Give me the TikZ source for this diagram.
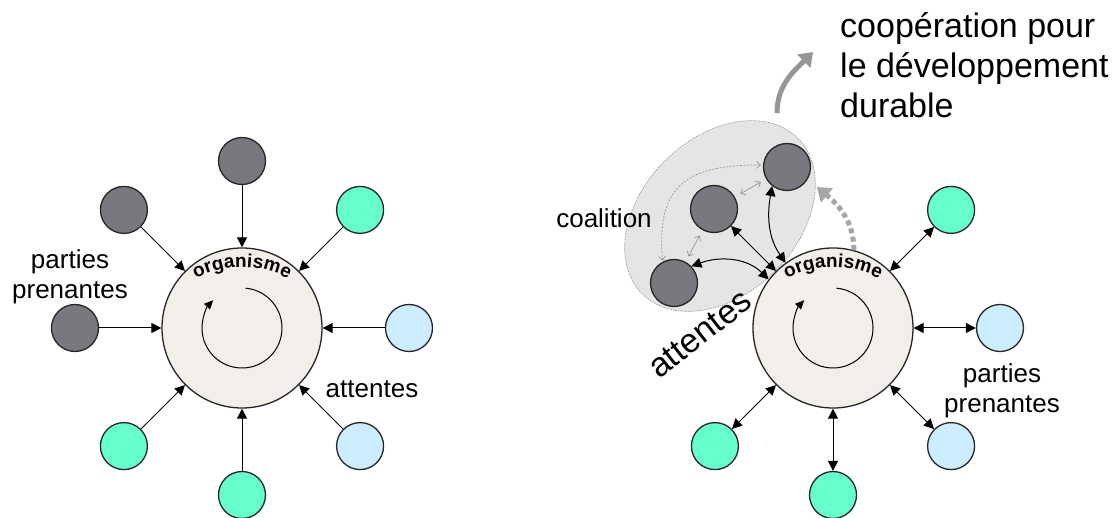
\documentclass[tikz,border=0pt]{standalone}
\usepackage{fontspec}
\setmainfont{Liberation Sans}
\usetikzlibrary{calc,arrows.meta,shapes.geometric,decorations.text}
\definecolor{darkclr}{RGB}{120,121,126}
\definecolor{freshclr}{RGB}{102,255,204}
\definecolor{paleclr}{RGB}{204,236,255}
\definecolor{orgclr}{RGB}{242,238,233}
\definecolor{coalclr}{RGB}{228,230,230}
\definecolor{riseclr}{RGB}{150,150,150}
\tikzset{
    party/.style={circle,draw=black!85,line width=1.3pt,minimum size=47pt,inner sep=0pt},
    dark/.style={party,fill=darkclr},
    fresh/.style={party,fill=freshclr},
    pale/.style={party,fill=paleclr},
    org/.style={circle,draw=black!85,line width=1.3pt,fill=orgclr,minimum size=160pt,inner sep=0pt},
    coalbox/.style={ellipse,draw=riseclr,dash pattern=on 1.5pt off 1pt,line width=0.6pt,fill=coalclr,minimum width=220pt,minimum height=156pt,inner sep=0pt},
    edge/.style={-{Triangle[length=10pt,width=10pt]},line width=1pt},
    both/.style={{Triangle[length=10pt,width=10pt]}-{Triangle[length=10pt,width=10pt]},line width=1pt},
    spin/.style={-{Triangle[length=9pt,width=8pt]},line width=1pt},
    pair/.style={{Straight Barb[length=4pt,width=7pt]}-{Straight Barb[length=4pt,width=7pt]},draw=riseclr,line width=0.7pt,shorten >=6pt,shorten <=6pt},
    loopback/.style={pair,dash pattern=on 2pt off 1.5pt,shorten >=2pt,shorten <=1pt},
    rise/.style={-{Triangle[length=13pt,width=18pt]},draw=riseclr,line width=5pt},
    feedback/.style={rise,draw=riseclr!85,dash pattern=on 5pt off 3.5pt},
    lbl/.style={font=\fontsize{26}{30}\selectfont,align=center,inner sep=0pt},
    big/.style={font=\fontsize{34}{40}\selectfont,inner sep=0pt},
    orgtext/.style={decorate,decoration={text along path,text align=center,text={|\fontsize{19}{19}\selectfont\bfseries|organisme}}},
}

\begin{document}
\begin{tikzpicture}[x=1pt,y=1pt]
\useasboundingbox (0,0) rectangle (1116,517);

% left: each party brings its expectations to the organism
\node[org] (orgL) at (242,189) {};
\node[dark]  (lN)  at ($(orgL)+(90:167)$)  {};
\node[dark]  (lNW) at ($(orgL)+(135:167)$) {};
\node[fresh] (lNE) at ($(orgL)+(45:167)$)  {};
\node[dark]  (lW)  at ($(orgL)+(180:167)$) {};
\node[pale]  (lE)  at ($(orgL)+(0:167)$)   {};
\node[fresh] (lSW) at ($(orgL)+(225:167)$) {};
\node[fresh] (lS)  at ($(orgL)+(270:167)$) {};
\node[pale]  (lSE) at ($(orgL)+(315:167)$) {};

\draw[edge] (lN)  -- (orgL);
\draw[edge] (lNW) -- (orgL);
\draw[edge] (lNE) -- (orgL);
\draw[edge] (lW)  -- (orgL);
\draw[edge] (lE)  -- (orgL);
\draw[edge] (lSW) -- (orgL);
\draw[edge] (lS)  -- (orgL);
\draw[edge] (lSE) -- (orgL);

\path[orgtext] ($(orgL)+(0,-36)+(125:97)$) arc[start angle=125,end angle=55,radius=97];
\draw[spin] ($(orgL)+(85:40)$) arc[start angle=85,end angle=-224,radius=40];

\node[lbl] (ppL) at (70,240)  {parties\\prenantes};
\node[lbl] (atL) at (372,128) {attentes};

% right: coalition and two-way exchanges
\node[coalbox,rotate=45] (coalition) at (720,301) {};
\node[org] (orgR) at (833,189) {};
\node[dark]  (cT) at (787,350) {};
\node[dark]  (cM) at (714,308) {};
\node[dark]  (cB) at (674,234) {};
\node[fresh] (rNE) at ($(orgR)+(45:167)$)  {};
\node[pale]  (rE)  at ($(orgR)+(0:167)$)   {};
\node[pale]  (rSE) at ($(orgR)+(315:167)$) {};
\node[fresh] (rS)  at ($(orgR)+(270:167)$) {};
\node[fresh] (rSW) at ($(orgR)+(225:167)$) {};

\draw[both] (orgR) -- (rNE);
\draw[both] (orgR) -- (rE);
\draw[both] (orgR) -- (rSE);
\draw[both] (orgR) -- (rS);
\draw[both] (orgR) -- (rSW);

\draw[both] (cM) -- (orgR);
\draw[both] (cB.44) to[out=20,in=135] (orgR.143);
\draw[both] (cT.232) to[out=-100,in=125] (orgR.126);

\draw[pair] (cB) -- (cM);
\draw[pair] (cM) -- (cT);
\draw[loopback] (cB.118) to[out=95,in=180,looseness=1.4] (cT.175);

\path[orgtext] ($(orgR)+(0,-36)+(125:97)$) arc[start angle=125,end angle=55,radius=97];
\draw[spin] ($(orgR)+(85:40)$) arc[start angle=85,end angle=-224,radius=40];

\coordinate (riseA) at (777,404);
\coordinate (riseB) at (813,465);
\coordinate (fbEnd) at (817,330);
\draw[rise] (riseA) to[out=90,in=225] (riseB);
\draw[feedback] (orgR.75) to[out=90,in=-40] (fbEnd);

\node[lbl] (coal) at (604,299) {coalition};
\node[lbl] (ppR) at (1002,126) {parties\\prenantes};
\node[big,rotate=38] (atR) at (700,183) {attentes};
\node[big,align=left,anchor=north west] (goal) at (840,505) {coopération pour\\le développement\\durable};
\end{tikzpicture}
\end{document}
